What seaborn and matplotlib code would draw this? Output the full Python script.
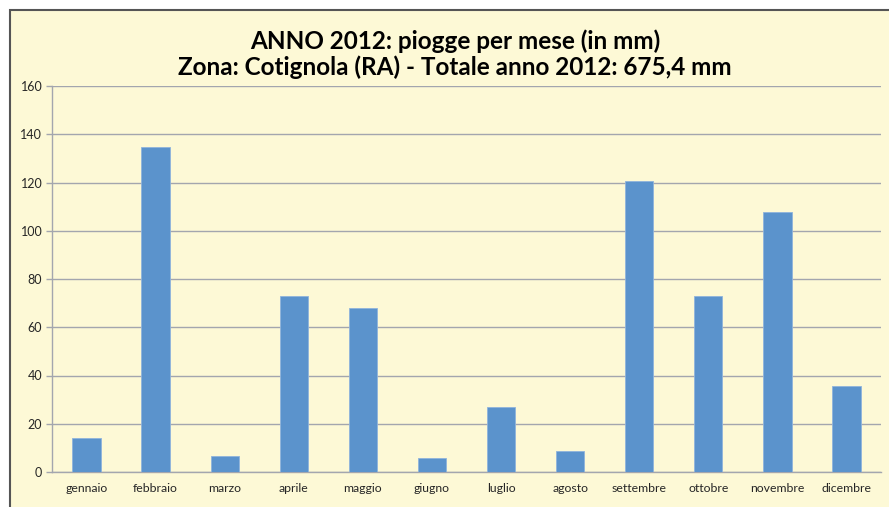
import matplotlib
matplotlib.use("Agg")
import matplotlib.pyplot as plt
import seaborn as sns
import pandas as pd
from matplotlib.patches import Rectangle

mesi = ["gennaio", "febbraio", "marzo", "aprile", "maggio", "giugno",
        "luglio", "agosto", "settembre", "ottobre", "novembre", "dicembre"]
pioggia = [14.1, 134.8, 6.6, 73.1, 68.0, 5.9, 26.9, 8.8, 120.6, 73.1, 107.8, 35.7]
y_ticks = [0, 20, 40, 60, 80, 100, 120, 140, 160]

sns.set_theme(style="white")
plt.rcParams['font.family'] = ['Lato', 'DejaVu Sans']

bg = "#FDF9D6"
bar_c = "#5B93CC"
grid_c = "#A3A6AE"

fig = plt.figure(figsize=(8.89, 5.07), dpi=100)
fig.patch.set_facecolor("white")
frame = Rectangle((10/889, -0.05), 1.0, 1 - 10/507 + 0.05,
                  transform=fig.transFigure, facecolor=bg,
                  edgecolor="#555555", linewidth=1.5, zorder=-10)
fig.patches.append(frame)

ax = fig.add_axes([52/889, 35/507, 829/889, 386/507])
ax.set_zorder(5)
ax.set_facecolor(bg)
df = pd.DataFrame({"mese": mesi, "mm": pioggia})
sns.barplot(data=df, x="mese", y="mm", color=bar_c, saturation=1, width=0.41,
            ax=ax, zorder=3, edgecolor="#8FB4DC", linewidth=0.6)

ax.set_ylim(0, 160)
ax.set_xlim(-0.5, 11.5)
ax.set_yticks(y_ticks)
ax.set_yticklabels([str(v) for v in y_ticks], fontsize=9)
ax.yaxis.grid(True, color=grid_c, linewidth=1.0, zorder=0)
ax.set_axisbelow(True)

ax.set_xticks(range(12))
ax.set_xticklabels(mesi, fontsize=8.8)
ax.tick_params(axis="x", length=0, pad=8)
ax.set_xticks([i - 0.5 for i in range(13)], minor=True)
ax.tick_params(axis="x", which="minor", length=5, color=grid_c, width=1, direction="out")
ax.tick_params(axis="y", length=4, color=grid_c, width=1, direction="out", pad=3, left=True)

for s in ["top", "right"]:
    ax.spines[s].set_visible(False)
for s in ["left", "bottom"]:
    ax.spines[s].set_color(grid_c)
    ax.spines[s].set_linewidth(1.0)

ax.set_xlabel("")
ax.set_ylabel("")

fig.text(455/889, 1 - 41/507, "ANNO 2012: piogge per mese (in mm)", ha="center", va="center",
         fontsize=17.5, fontweight="bold", color="black", zorder=6)
fig.text(455/889, 1 - 67/507, "Zona: Cotignola (RA) - Totale anno 2012: 675,4 mm", ha="center", va="center",
         fontsize=17.5, fontweight="bold", color="black", zorder=6)

fig.savefig("out.png", dpi=100, facecolor=fig.get_facecolor())
